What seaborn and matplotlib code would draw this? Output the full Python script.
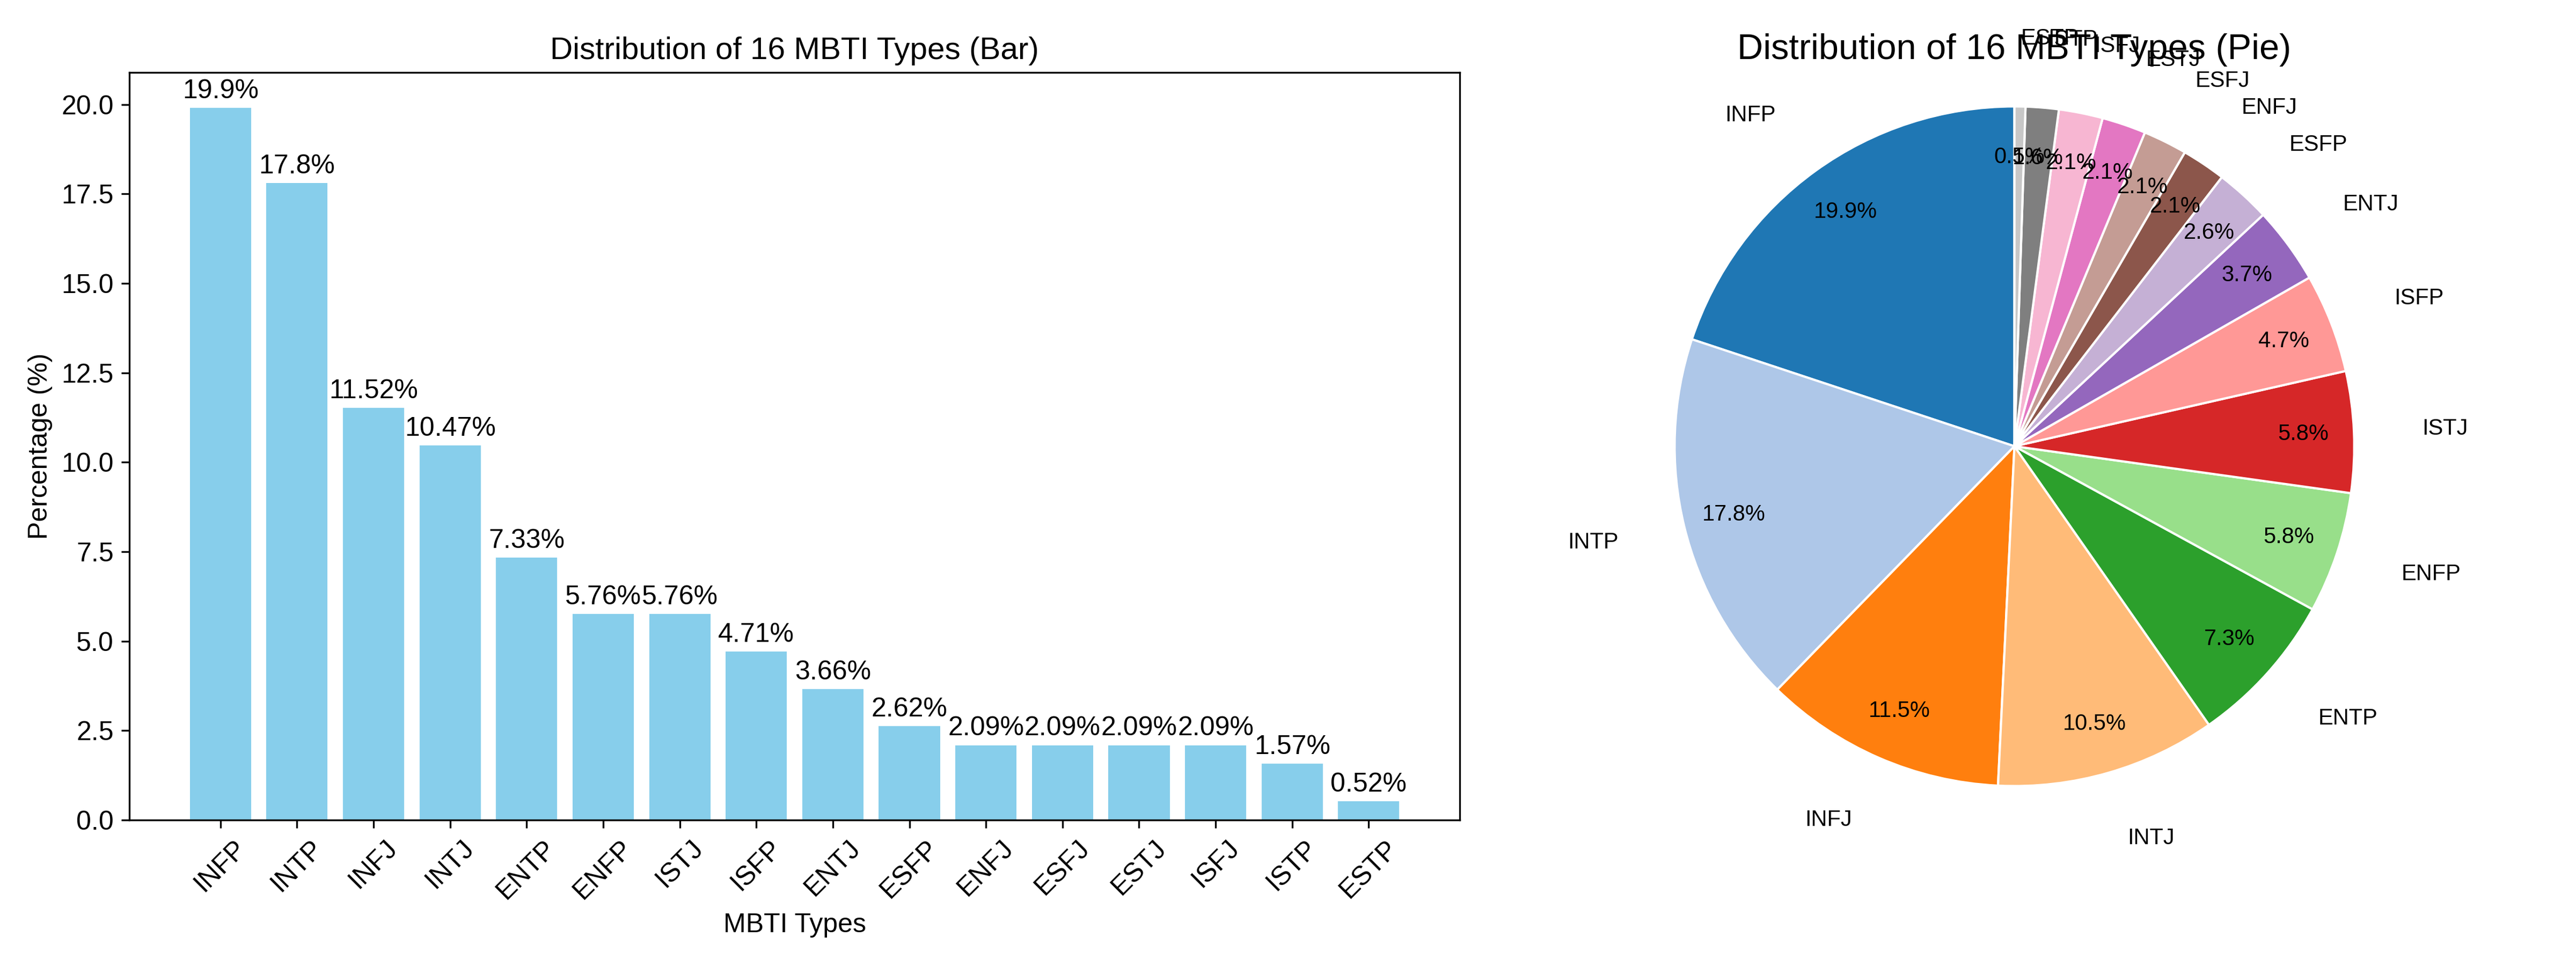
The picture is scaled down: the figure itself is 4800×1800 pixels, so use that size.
import numpy as np
import pandas as pd
import seaborn as sns
import matplotlib
matplotlib.use("Agg")
from matplotlib import pyplot as plt

mbti_types = ["INFP", "INTP", "INFJ", "INTJ", "ENTP", "ENFP", "ISTJ", "ISFP",
              "ENTJ", "ESFP", "ENFJ", "ESFJ", "ESTJ", "ISFJ", "ISTP", "ESTP"]
percentages = [19.9, 17.8, 11.52, 10.47, 7.33, 5.76, 5.76, 4.71,
               3.66, 2.62, 2.09, 2.09, 2.09, 2.09, 1.57, 0.52]

plt.rcParams['font.family'] = ['Liberation Sans', 'DejaVu Sans']

df = pd.DataFrame({"type": mbti_types, "pct": percentages})

fig = plt.figure(figsize=(16, 6), dpi=300)
ax1 = fig.add_axes([0.0502, 0.1511, 0.5165, 0.7739])
ax2 = fig.add_axes([0.572, 0.1511, 0.42, 0.7739])

# bar chart
sns.barplot(data=df, x="type", y="pct", color="skyblue", saturation=1,
            width=0.8, ax=ax1)
ax1.bar_label(ax1.containers[0], labels=[f"{v}%" for v in percentages],
              padding=2, fontsize=12)
ax1.set_title("Distribution of 16 MBTI Types (Bar)", fontsize=14)
ax1.set_xlabel("MBTI Types", fontsize=12)
ax1.set_ylabel("Percentage (%)", fontsize=12)
ax1.tick_params(axis='x', labelrotation=45, labelsize=12)
ax1.tick_params(axis='y', labelsize=12)
# back to matplotlib's default x margins, like plt.bar
ax1.autoscale(enable=True, axis='x')
ax1.margins(x=0.05)
ax1.autoscale_view()

# pie chart
ax2.pie(percentages, labels=mbti_types, colors=plt.cm.tab20.colors[:16],
        autopct='%1.1f%%', startangle=90, pctdistance=0.85,
        labeldistance=1.2, wedgeprops={'edgecolor': 'white', 'linewidth': 1},
        textprops={'fontsize': 10})
ax2.axis('equal')
ax2.set_title("Distribution of 16 MBTI Types (Pie)", fontsize=16)

fig.savefig("out.png", dpi=300)
